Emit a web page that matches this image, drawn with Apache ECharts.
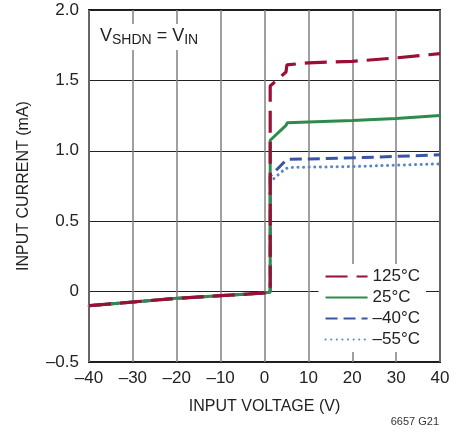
<!DOCTYPE html>
<html>
<head>
<meta charset="utf-8">
<script src="https://cdn.jsdelivr.net/npm/echarts@6/dist/echarts.min.js"></script>
<style>
  html, body { margin: 0; padding: 0; background: #fff; }
  #chart { width: 463px; height: 435px; }
</style>
</head>
<body>
<div id="chart"></div>
<script>
// input voltage (V) vs input current (mA)
const temp125 = [[-40, -0.1], [-20, -0.048], [0, -0.01], [1.3, -0.003], [1.3, 1.46], [4.9, 1.56], [5.1, 1.61], [10, 1.625], [20, 1.635], [30, 1.66], [40, 1.69]];
const temp25 = [[-40, -0.1], [-20, -0.048], [0, -0.01], [1.3, -0.003], [1.3, 1.075], [4.9, 1.18], [5.2, 1.2], [10, 1.205], [20, 1.215], [30, 1.23], [40, 1.25]];
const tempM40 = [[-40, -0.1], [-20, -0.048], [0, -0.01], [1.3, -0.003], [1.3, 0.82], [4.8, 0.93], [5.5, 0.94], [10, 0.942], [20, 0.95], [30, 0.96], [40, 0.972]];
const tempM55 = [[-40, -0.1], [-20, -0.048], [0, -0.01], [1.3, -0.003], [1.3, 0.78], [4.8, 0.875], [6, 0.882], [10, 0.884], [20, 0.888], [30, 0.898], [40, 0.907]];
const seriesNames = ['125°C', '25°C', '–40°C', '–55°C'];
const xTicks = [-40, 40, 10];
const yTicks = [-0.5, 2.0, 0.5];

const font = "'Liberation Sans', Arial, sans-serif";
const dash = v => String(v).replace('-', '–');

let myChart = echarts.init(document.getElementById('chart'));
let option = {
  animation: false,
  textStyle: { fontFamily: font },
  grid: { left: 89, right: 23, top: 10, bottom: 73, show: true, borderColor: '#1a1a1a', borderWidth: 2, backgroundColor: 'transparent' },
  xAxis: {
    type: 'value', min: xTicks[0], max: xTicks[1], interval: xTicks[2],
    name: 'INPUT VOLTAGE (V)', nameLocation: 'middle', nameGap: 37,
    nameTextStyle: { fontFamily: font, fontSize: 16, color: '#222' },
    axisLine: { show: false }, axisTick: { show: false },
    axisLabel: { fontFamily: font, fontSize: 17, color: '#222', margin: 8, formatter: v => dash(v) },
    splitLine: { lineStyle: { color: '#808080', width: 1.5 } }
  },
  yAxis: {
    type: 'value', min: yTicks[0], max: yTicks[1], interval: yTicks[2],
    name: 'INPUT CURRENT (mA)', nameLocation: 'middle', nameGap: 57,
    nameTextStyle: { fontFamily: font, fontSize: 16, color: '#222' },
    axisLine: { show: false }, axisTick: { show: false },
    axisLabel: { fontFamily: font, fontSize: 17, color: '#222', margin: 10,
      formatter: v => v === 0 ? '0' : dash(v.toFixed(1)) },
    splitLine: { lineStyle: { color: '#222', width: 1 } }
  },
  legend: {
    orient: 'vertical', right: 37, bottom: 83, itemWidth: 42, itemHeight: 10, itemGap: 4,
    backgroundColor: '#fff', padding: [4, 6, 4, 6],
    itemStyle: { opacity: 0 },
    textStyle: { fontFamily: font, fontSize: 17, color: '#222' },
    data: seriesNames
  },
  graphic: [{
    type: 'text', left: 94, top: 24, z: 10,
    style: {
      text: '{v|V}{s|SHDN}{v| = V}{s|IN}',
      backgroundColor: '#fff', padding: [2, 6, 4, 6],
      rich: {
        v: { fontFamily: font, fontSize: 18, fill: '#222', lineHeight: 20 },
        s: { fontFamily: font, fontSize: 14, fill: '#222', lineHeight: 20, padding: [8, 0, 0, 0] }
      }
    }
  }, {
    type: 'text', right: 24, top: 416,
    style: { text: '6657 G21', fontFamily: font, fontSize: 11, fill: '#333' }
  }],
  series: [
    { name: seriesNames[3], type: 'line', data: tempM55, symbol: 'none', z: 2,
      lineStyle: { color: '#5a86c9', width: 3, type: [0.1, 5.5], cap: 'round' }, itemStyle: { color: '#5a86c9' } },
    { name: seriesNames[2], type: 'line', data: tempM40, symbol: 'none', z: 3,
      lineStyle: { color: '#3a55a5', width: 3, type: [12, 6] }, itemStyle: { color: '#3a55a5' } },
    { name: seriesNames[1], type: 'line', data: temp25, symbol: 'none', z: 4,
      lineStyle: { color: '#2e8b4c', width: 3 }, itemStyle: { color: '#2e8b4c' } },
    { name: seriesNames[0], type: 'line', data: temp125, symbol: 'none', z: 5,
      lineStyle: { color: '#9a0f35', width: 3.2, type: [22, 9] }, itemStyle: { color: '#9a0f35' } }
  ]
};
myChart.setOption(option);
</script>
</body>
</html>
